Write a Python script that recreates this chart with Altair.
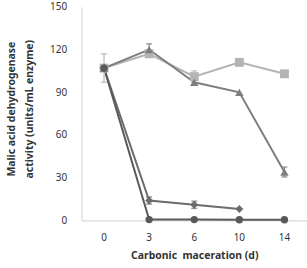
import altair as alt
import pandas as pd

days = ["0", "3", "6", "10", "14"]
series_names = ["Square", "Triangle", "Diamond", "Circle"]
square_vals = [107, 117, 101, 111, 103]
triangle_vals = [107, 120, 97, 90, 34]
diamond_vals = [107, 14, 11, 8, None]
circle_vals = [107, 0.6, 0.6, 0.5, 0.5]

err_series = ["Square", "Triangle", "Square", "Triangle", "Diamond", "Diamond"]
err_day = ["0", "3", "6", "14", "3", "6"]
err_mid = [107, 120, 101, 34, 14, 11]
err_half = [10, 4, 4, 3.5, 2.5, 2.5]

colors = ["#b4b4b4", "#7e7e7e", "#6c6c6c", "#595959"]
shapes = ["square", "triangle-up", "diamond", "circle"]

ytitle_lines = ["Malic acid dehydrogenase", "activity (units/mL enzyme)"]

rows = []
for name, vals in zip(series_names, [square_vals, triangle_vals, diamond_vals, circle_vals]):
    for d, v in zip(days, vals):
        if v is not None:
            rows.append({"series": name, "day": d, "value": v})
df = pd.DataFrame(rows)

err = pd.DataFrame({
    "series": err_series, "day": err_day,
    "lo": [m - h for m, h in zip(err_mid, err_half)],
    "hi": [m + h for m, h in zip(err_mid, err_half)],
})

x = alt.X("day:N", sort=days, scale=alt.Scale(domain=days),
          axis=alt.Axis(title="Carbonic\u00a0\u00a0maceration (d)", labelAngle=0))
yscale = alt.Scale(domain=[0, 150])
color = alt.Color("series:N", scale=alt.Scale(domain=series_names, range=colors), legend=None)
shape = alt.Shape("series:N", scale=alt.Scale(domain=series_names, range=shapes), legend=None)

lines = alt.Chart(df).mark_line(strokeWidth=2).encode(
    x=x,
    y=alt.Y("value:Q", scale=yscale,
            axis=alt.Axis(values=[0, 30, 60, 90, 120, 150], title=None)),
    color=color,
    order=alt.Order("series:N"),
)

points = alt.Chart(df).mark_point(filled=True, opacity=1).encode(
    x=x, y=alt.Y("value:Q", scale=yscale), color=color, shape=shape,
    size=alt.Size("series:N", scale=alt.Scale(domain=series_names, range=[80, 55, 40, 55]), legend=None),
)

bars = alt.Chart(err).mark_rule(strokeWidth=1.2).encode(
    x=x, y=alt.Y("lo:Q", scale=yscale), y2="hi:Q", color=color)
caps_lo = alt.Chart(err).mark_tick(size=6, thickness=1.5).encode(
    x=x, y=alt.Y("lo:Q", scale=yscale), color=color)
caps_hi = alt.Chart(err).mark_tick(size=6, thickness=1.5).encode(
    x=x, y=alt.Y("hi:Q", scale=yscale), color=color)

title_style = dict(angle=270, align="center", baseline="middle", font="Noto Sans",
                   fontSize=10.5, fontWeight="bold", color="#333333")
t1 = alt.Chart(pd.DataFrame({"t": [ytitle_lines[0]]})).mark_text(**title_style).encode(
    text="t:N", x=alt.value(-70), y=alt.value(103))
t2 = alt.Chart(pd.DataFrame({"t": [ytitle_lines[1]]})).mark_text(**title_style).encode(
    text="t:N", x=alt.value(-52), y=alt.value(103))

chart = alt.layer(lines, bars, caps_lo, caps_hi, points, t1, t2).properties(
    width=227, height=215,
    autosize=alt.AutoSizeParams(type="none"),
    padding={"left": 82, "top": 6, "right": 0, "bottom": 47},
).configure_view(stroke=None).configure_axis(
    grid=False, ticks=False, domainColor="#d0d0d0", domainWidth=1,
    labelColor="#333333", labelFont="Noto Sans", labelFontSize=10,
    titleColor="#333333", titleFont="Noto Sans", titleFontSize=10.5, titleFontWeight="bold",
).configure_axisY(
    labelPadding=15,
).configure_axisX(
    labelPadding=12, titlePadding=8, domainColor="#d0d0d0",
).configure_scale(bandPaddingInner=0, bandPaddingOuter=0)

chart.save("out.html", embed_options={"renderer": "svg", "actions": False})
